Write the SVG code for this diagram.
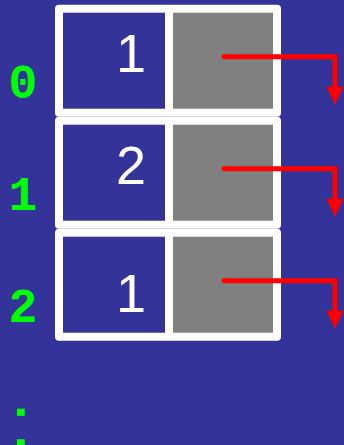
<svg xmlns="http://www.w3.org/2000/svg" width="344" height="445" viewBox="0 0 344 445">
<defs>
<style>
.frame{fill:#ffffff}
.key{fill:#333399}
.ptr{fill:#808080}
.val{font-family:"Liberation Sans",Arial,sans-serif;font-size:54px;fill:#ffffff;text-anchor:middle}
.idx{font-family:"Liberation Mono","Courier New",monospace;font-weight:bold;font-size:48px;fill:#00ff00;text-anchor:middle}
.link{fill:none;stroke:#ff0000;stroke-width:5;stroke-linecap:round;stroke-linejoin:miter}
.head{fill:#ff0000}
</style>
</defs>
<rect width="344" height="445" fill="#333399"/>
<g id="labels">
<text class="idx" x="23" y="98">0</text>
<text class="idx" x="23" y="210">1</text>
<text class="idx" x="23" y="322">2</text>
<text class="idx" x="0" y="0" transform="translate(17,397) rotate(90)" style="text-anchor:start;font-size:51px">..</text>
</g>
<g id="node0">
<rect class="frame" x="55" y="4.7" width="226" height="112" rx="4"/>
<rect class="key" x="63" y="12.7" width="102" height="96"/>
<rect class="ptr" x="173" y="12.7" width="100" height="96"/>
<text class="val" x="131" y="72">1</text>
</g>
<g id="node1">
<rect class="frame" x="55" y="116.7" width="226" height="112" rx="4"/>
<rect class="key" x="63" y="124.7" width="102" height="96"/>
<rect class="ptr" x="173" y="124.7" width="100" height="96"/>
<text class="val" x="131" y="184.3">2</text>
</g>
<g id="node2">
<rect class="frame" x="55" y="228.7" width="226" height="112" rx="4"/>
<rect class="key" x="63" y="236.7" width="102" height="96"/>
<rect class="ptr" x="173" y="236.7" width="100" height="96"/>
<text class="val" x="131" y="311.7">1</text>
</g>
<g id="connectors">
<path class="link" d="M224,56.7 H335 V88"/>
<polygon class="head" points="326.7,86.7 343.3,86.7 335,105"/>
<path class="link" d="M224,168.7 H335 V200"/>
<polygon class="head" points="326.7,198.7 343.3,198.7 335,217"/>
<path class="link" d="M224,280.7 H335 V312"/>
<polygon class="head" points="326.7,310.7 343.3,310.7 335,329"/>
</g>
</svg>
